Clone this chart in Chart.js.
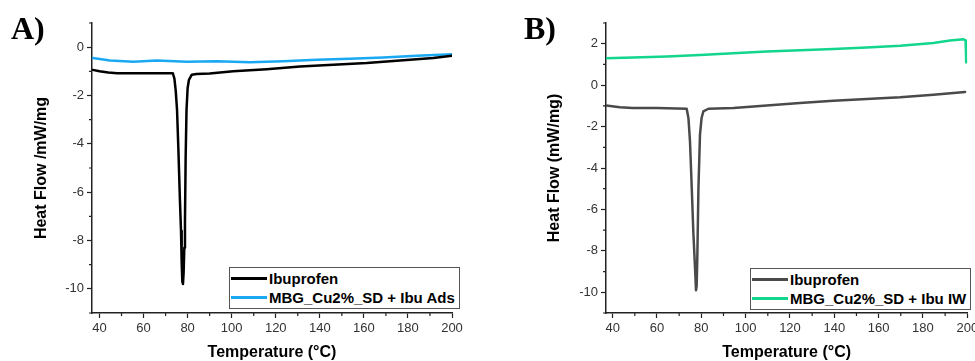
<!DOCTYPE html>
<html>
<head>
<meta charset="utf-8">
<script src="https://cdn.jsdelivr.net/npm/chart.js@4"></script>
<style>
  html, body { margin: 0; padding: 0; background: #fff; }
  body { width: 975px; height: 361px; position: relative; overflow: hidden; font-family: "Liberation Sans", Arial, sans-serif; }
  canvas { position: absolute; top: 0; }
  #chartA { left: 0; }
  #chartB { left: 490px; }
  .panel-label { position: absolute; font-family: "Liberation Serif", "Times New Roman", serif; font-weight: bold; font-size: 32px; line-height: 1; color: #000; }
  .legend { position: absolute; border: 1px solid #555; background: #fff; padding: 1px 0; }
  .legend-row { display: flex; align-items: center; height: 19px; font-weight: bold; font-size: 15px; color: #000; white-space: nowrap; }
  .legend-swatch { width: 36px; height: 3px; margin: 0 2px 0 1px; }
</style>
</head>
<body>
<canvas id="chartA" width="480" height="361"></canvas>
<canvas id="chartB" width="510" height="361"></canvas>

<div class="panel-label" style="left:11px; top:12px;">A)</div>
<div class="panel-label" style="left:524px; top:12px;">B)</div>

<div class="legend" id="legendA" style="left:229px; top:267px; width:229px;"></div>
<div class="legend" id="legendB" style="left:750px; top:268px; width:219px;"></div>

<script>
// ---- data ----
// Panel A
const ibuTempA = [37, 40, 44, 48, 55, 65, 73.3, 74.0, 74.6, 75.2, 75.8, 76.5, 77.0, 77.3, 77.6, 77.9, 78.2, 78.5, 78.8, 79.1, 79.5, 80.0, 80.6, 81.9, 84, 90, 100.7, 115.9, 131, 146.1, 161.3, 176.4, 191.5, 200];
const ibuHeatA = [-0.94, -1.0, -1.05, -1.08, -1.08, -1.08, -1.08, -1.3, -1.8, -2.6, -4.2, -6.3, -7.6, -8.9, -9.7, -9.8, -9.3, -8.3, -7.2, -4.6, -2.6, -1.7, -1.35, -1.14, -1.11, -1.09, -1.0, -0.91, -0.8, -0.73, -0.66, -0.55, -0.45, -0.35];
const adsTempA = [37, 44.8, 55.4, 66, 79.6, 93.2, 108.3, 123.4, 138.6, 153.7, 168.8, 184, 200];
const adsHeatA = [-0.45, -0.55, -0.6, -0.55, -0.6, -0.58, -0.62, -0.58, -0.52, -0.48, -0.43, -0.36, -0.29];

// Panel B
const ibuTempB = [37, 43.3, 49, 60, 73.4, 74.2, 74.9, 75.7, 76.4, 77.2, 77.6, 77.9, 78.2, 78.7, 79.4, 80.1, 80.9, 83.2, 94.5, 109.5, 124.5, 139.6, 154.6, 169.7, 184.7, 199];
const ibuHeatB = [-0.98, -1.07, -1.1, -1.1, -1.14, -1.6, -2.73, -5.0, -7.1, -8.9, -9.9, -9.7, -8.3, -5.0, -2.4, -1.6, -1.27, -1.14, -1.1, -0.98, -0.86, -0.75, -0.67, -0.59, -0.46, -0.33];
const iwTempB = [37, 49.3, 64.4, 79.4, 94.4, 109.5, 124.5, 139.6, 154.6, 169.7, 184.7, 192.2, 198.3, 199.2, 199.4, 199.5];
const iwHeatB = [1.3, 1.33, 1.38, 1.46, 1.54, 1.63, 1.69, 1.74, 1.82, 1.9, 2.03, 2.15, 2.22, 2.15, 1.6, 1.1];

// ticks
const xMajorTicks = [40, 60, 80, 100, 120, 140, 160, 180, 200];
const xMinorTicks = [50, 70, 90, 110, 130, 150, 170, 190];
const yMajorTicksA = [-10, -8, -6, -4, -2, 0];
const yMinorTicksA = [-11, -9, -7, -5, -3, -1, 1];
const yMajorTicksB = [-10, -8, -6, -4, -2, 0, 2];
const yMinorTicksB = [-11, -9, -7, -5, -3, -1, 1, 3];

const axisColor = "#222";
const tickLabelColor = "#333";

Chart.defaults.font.family = '"Liberation Sans", Arial, sans-serif';

const toPoints = (xs, ys) => xs.map((x, i) => ({ x: x, y: ys[i] }));

// draws the short minor tick marks
const minorTicksPlugin = {
  id: "minorTicks",
  afterDraw(chart, args, opts) {
    const { ctx, chartArea, scales } = chart;
    ctx.save();
    ctx.strokeStyle = axisColor;
    ctx.lineWidth = 1.2;
    ctx.beginPath();
    opts.xMinor.forEach(v => {
      const px = scales.x.getPixelForValue(v);
      ctx.moveTo(px, chartArea.bottom);
      ctx.lineTo(px, chartArea.bottom + 3);
    });
    opts.yMinor.forEach(v => {
      const py = scales.y.getPixelForValue(v);
      ctx.moveTo(chartArea.left, py);
      ctx.lineTo(chartArea.left - 3, py);
    });
    ctx.stroke();
    ctx.restore();
  }
};

function makePanel(canvasId, cfg) {
  const ctx = document.getElementById(canvasId).getContext("2d");
  return new Chart(ctx, {
    type: "scatter",
    data: {
      datasets: cfg.series.map(s => ({
        label: s.label,
        data: toPoints(s.xs, s.ys),
        showLine: true,
        borderColor: s.color,
        borderWidth: 2.5,
        borderJoinStyle: "round",
        borderCapStyle: "round",
        pointRadius: 0,
        tension: 0
      }))
    },
    options: {
      responsive: false,
      animation: false,
      layout: { padding: { top: cfg.padTop, right: cfg.padRight, left: 0, bottom: 0 } },
      plugins: {
        legend: { display: false },
        tooltip: { enabled: false },
        minorTicks: { xMinor: xMinorTicks, yMinor: cfg.yMinor }
      },
      scales: {
        x: {
          type: "linear",
          min: cfg.xMin,
          max: 200,
          afterBuildTicks: (scale) => { scale.ticks = xMajorTicks.map(v => ({ value: v })); },
          afterFit: (scale) => { scale.height = 48; },
          border: { display: true, color: axisColor, width: 1.5 },
          grid: { drawOnChartArea: false, drawTicks: true, tickLength: 5, tickColor: axisColor, tickWidth: 1.2 },
          ticks: { color: tickLabelColor, font: { size: 13 }, padding: 3, maxRotation: 0, autoSkip: false },
          title: {
            display: true,
            text: "Temperature (°C)",
            color: "#000",
            font: { size: 16, weight: "bold", lineHeight: 1.1 },
            padding: { top: 0, bottom: 0 }
          }
        },
        y: {
          type: "linear",
          min: -11,
          max: cfg.yMax,
          afterBuildTicks: (scale) => { scale.ticks = cfg.yMajor.map(v => ({ value: v })); },
          afterFit: (scale) => { scale.width = cfg.yAxisWidth; },
          border: { display: true, color: axisColor, width: 1.5 },
          grid: { drawOnChartArea: false, drawTicks: true, tickLength: 5, tickColor: axisColor, tickWidth: 1.2 },
          ticks: { color: tickLabelColor, font: { size: 13 }, padding: 3 },
          title: {
            display: true,
            text: cfg.yTitle,
            color: "#000",
            font: { size: 16, weight: "bold", lineHeight: 1.2 },
            padding: { top: cfg.yTitlePad, bottom: 0 }
          }
        }
      }
    },
    plugins: [minorTicksPlugin]
  });
}

function buildLegend(elId, series) {
  const el = document.getElementById(elId);
  series.forEach(s => {
    const row = document.createElement("div");
    row.className = "legend-row";
    const sw = document.createElement("span");
    sw.className = "legend-swatch";
    sw.style.background = s.color;
    const txt = document.createElement("span");
    txt.textContent = s.label;
    row.appendChild(sw);
    row.appendChild(txt);
    el.appendChild(row);
  });
}

const seriesA = [
  { label: "Ibuprofen", xs: ibuTempA, ys: ibuHeatA, color: "#000000" },
  { label: "MBG_Cu2%_SD + Ibu Ads", xs: adsTempA, ys: adsHeatA, color: "#1aa8f2" }
];
const seriesB = [
  { label: "Ibuprofen", xs: ibuTempB, ys: ibuHeatB, color: "#4a4a4a" },
  { label: "MBG_Cu2%_SD + Ibu IW", xs: iwTempB, ys: iwHeatB, color: "#12d68c" }
];

makePanel("chartA", {
  series: seriesA,
  xMin: 36.6,
  yMax: 1,
  yMajor: yMajorTicksA,
  yMinor: yMinorTicksA,
  yTitle: "Heat Flow /mW/mg",
  yAxisWidth: 92,
  yTitlePad: 32,
  padTop: 23,
  padRight: 28
});

makePanel("chartB", {
  series: seriesB,
  xMin: 37,
  yMax: 3,
  yMajor: yMajorTicksB,
  yMinor: yMinorTicksB,
  yTitle: "Heat Flow (mW/mg)",
  yAxisWidth: 116,
  yTitlePad: 55,
  padTop: 23,
  padRight: 32.7
});

buildLegend("legendA", seriesA);
buildLegend("legendB", seriesB);
</script>
</body>
</html>
